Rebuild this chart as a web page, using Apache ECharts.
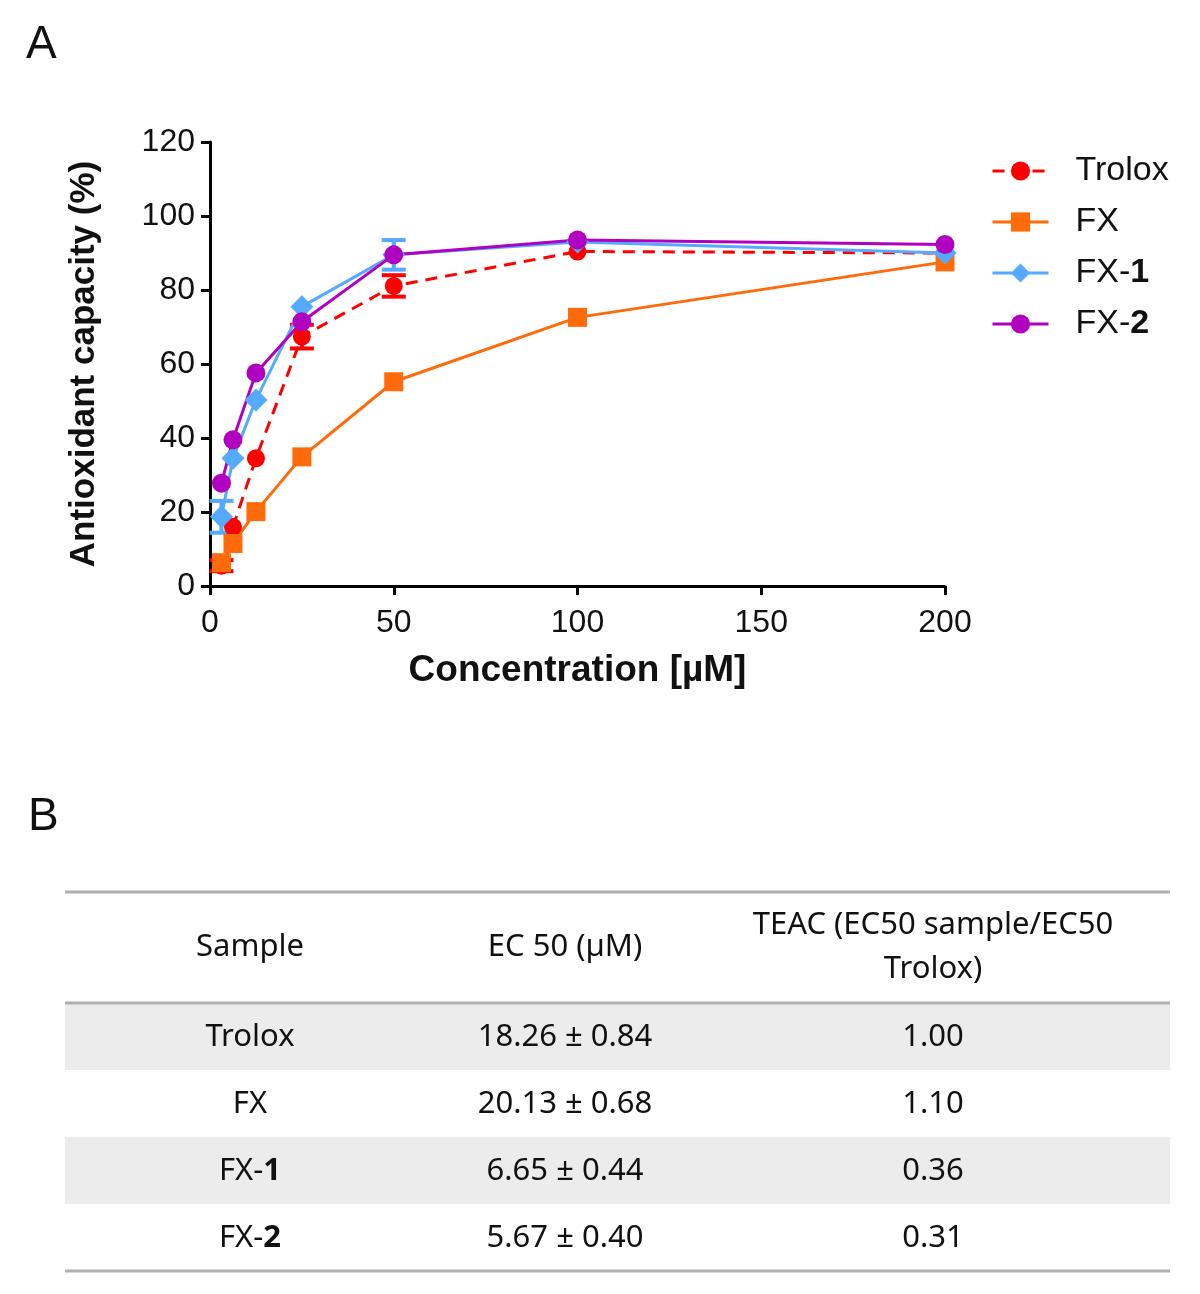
<!DOCTYPE html>
<html>
<head>
<meta charset="utf-8">
<script src="https://cdn.jsdelivr.net/npm/echarts@6/dist/echarts.min.js"></script>
<style>
html, body { margin: 0; padding: 0; background: #fff; }
#main { width: 1200px; height: 1294px; }
</style>
</head>
<body>
<div id="main"></div>
<script>
// concentrations in uM
var concentrations = [3.125, 6.25, 12.5, 25, 50, 100, 200];

// errors of 0 are bars hidden under the symbols in the original
var troloxValues = [5.5, 16.0, 34.5, 67.4, 81.1, 90.4, 90.0];
var troloxErrors = [1.5, 0, 0, 3.2, 2.9, 0, 0];
var fxValues = [6.3, 11.5, 20.1, 34.9, 55.2, 72.6, 87.6];
var fxErrors = [0, 0, 0, 0, 0, 0, 0];
var fx1Values = [18.7, 34.5, 50.3, 75.5, 89.5, 93.0, 90.0];
var fx1Errors = [4.3, 0, 0, 0, 4.0, 0, 0];
var fx2Values = [27.8, 39.5, 57.6, 71.4, 89.5, 93.5, 92.3];
var fx2Errors = [0, 0, 0, 0, 0, 0, 0];

var xTicks = [0, 50, 100, 150, 200];
var yTicks = [0, 20, 40, 60, 80, 100, 120];

// table B
var tableHeader = ['Sample', 'EC 50 (\u00b5M)', 'TEAC (EC50 sample/EC50\nTrolox)'];
var sampleNames = ['Trolox', 'FX', 'FX-1', 'FX-2'];
var ec50Values = ['18.26 \u00b1 0.84', '20.13 \u00b1 0.68', '6.65 \u00b1 0.44', '5.67 \u00b1 0.40'];
var teacValues = ['1.00', '1.10', '0.36', '0.31'];

var colors = {
    'Trolox': '#ff0000',
    'FX': '#ff6a0a',
    'FX-1': '#55aaff',
    'FX-2': '#b000c0'
};

function boldDigit(name) {
    return name.replace(/-(\d)$/, '-{b|$1}');
}

function pairs(vals, errs) {
    return concentrations.map(function (c, i) { return [c, vals[i], errs[i]]; });
}

function errorRender(color) {
    return function (params, api) {
        var x = api.value(0), y = api.value(1), e = api.value(2);
        if (!(e > 0)) {
            return null;
        }
        var top = api.coord([x, y + e]);
        var bot = api.coord([x, y - e]);
        var hw = 12;
        var st = { stroke: color, lineWidth: 4 };
        return {
            type: 'group',
            children: [
                { type: 'line', shape: { x1: top[0], y1: top[1], x2: bot[0], y2: bot[1] }, style: st },
                { type: 'line', shape: { x1: top[0] - hw, y1: top[1], x2: top[0] + hw, y2: top[1] }, style: st },
                { type: 'line', shape: { x1: bot[0] - hw, y1: bot[1], x2: bot[0] + hw, y2: bot[1] }, style: st }
            ]
        };
    };
}

function errorSeries(name, vals, errs) {
    return {
        type: 'custom',
        name: name + ' err',
        renderItem: errorRender(colors[name]),
        data: pairs(vals, errs),
        clip: false,
        z: 1
    };
}

function lineSeries(name, vals, symbol, size, dashed) {
    return {
        type: 'line',
        name: name,
        data: concentrations.map(function (c, i) { return [c, vals[i]]; }),
        symbol: symbol,
        symbolSize: size,
        showAllSymbol: true,
        itemStyle: { color: colors[name] },
        lineStyle: { color: colors[name], width: 3, type: dashed ? [12, 8] : 'solid' },
        z: 2
    };
}

// table graphics built from the arrays
function buildTable() {
    var x0 = 65, x1 = 1170;
    var colX = [250, 565, 933];
    var headTop = 892, headBottom = 1003, rowH = 67;
    var font = '"Noto Sans", "DejaVu Sans", sans-serif';
    var fs = 31;
    var els = [];
    sampleNames.forEach(function (s, i) {
        if (i % 2 === 0) {
            els.push({
                type: 'rect',
                shape: { x: x0, y: headBottom + i * rowH, width: x1 - x0, height: rowH },
                style: { fill: '#ececec' },
                silent: true
            });
        }
    });
    [headTop, headBottom, headBottom + sampleNames.length * rowH].forEach(function (y) {
        els.push({
            type: 'line',
            shape: { x1: x0, y1: y, x2: x1, y2: y },
            style: { stroke: '#b0b0b0', lineWidth: 3 },
            silent: true
        });
    });
    tableHeader.forEach(function (h, j) {
        els.push({
            type: 'text',
            x: colX[j],
            y: (headTop + headBottom) / 2,
            style: {
                text: h, fontFamily: font, fontSize: fs, fill: '#111',
                align: 'center', verticalAlign: 'middle', lineHeight: 44
            }
        });
    });
    sampleNames.forEach(function (s, i) {
        var cy = headBottom + i * rowH + rowH / 2 + 1;
        [boldDigit(s), ec50Values[i], teacValues[i]].forEach(function (t, j) {
            els.push({
                type: 'text',
                x: colX[j],
                y: cy,
                style: {
                    text: t, fontFamily: font, fontSize: fs, fill: '#111',
                    align: 'center', verticalAlign: 'middle',
                    rich: { b: { fontFamily: font, fontSize: fs, fontWeight: 'bold', fill: '#111' } }
                }
            });
        });
    });
    return els;
}

var myChart = echarts.init(document.getElementById('main'), null, { renderer: 'canvas' });
var axisFont = '"Liberation Sans", Arial, sans-serif';

var option = {
    backgroundColor: '#fff',
    animation: false,
    textStyle: { fontFamily: axisFont },
    grid: { left: 210, right: 255, top: 142, bottom: 708, containLabel: false },
    legend: {
        orient: 'vertical',
        left: 991,
        top: 154,
        itemWidth: 56,
        itemHeight: 24,
        itemGap: 17,
        padding: 0,
        data: sampleNames,
        formatter: boldDigit,
        lineStyle: { width: 3 },
        textStyle: {
            fontFamily: axisFont, fontSize: 34, color: '#111', padding: [0, 0, 0, 22],
            rich: { b: { fontFamily: axisFont, fontSize: 34, fontWeight: 'bold', color: '#111' } }
        }
    },
    xAxis: {
        type: 'value',
        min: 0,
        max: 200,
        interval: 50,
        name: 'Concentration [\u00b5M]',
        nameLocation: 'middle',
        nameGap: 66,
        nameTextStyle: { fontFamily: axisFont, fontSize: 37, fontWeight: 'bold', color: '#111' },
        axisLine: { onZero: false, lineStyle: { color: '#000', width: 3 } },
        axisTick: { length: 9, lineStyle: { color: '#000', width: 3 } },
        axisLabel: {
            fontSize: 32, color: '#111', margin: 21,
            customValues: xTicks
        },
        splitLine: { show: false }
    },
    yAxis: {
        type: 'value',
        min: 0,
        max: 120,
        interval: 20,
        name: 'Antioxidant capacity (%)',
        nameLocation: 'middle',
        nameGap: 108,
        nameTextStyle: { fontFamily: axisFont, fontSize: 35, fontWeight: 'bold', color: '#111' },
        axisLine: { show: true, onZero: false, lineStyle: { color: '#000', width: 3 } },
        axisTick: { show: true, length: 9, lineStyle: { color: '#000', width: 3 } },
        axisLabel: { fontSize: 32, color: '#111', margin: 15, customValues: yTicks },
        splitLine: { show: false }
    },
    graphic: [
        { type: 'text', left: 26, top: 22, style: { text: 'A', fontFamily: axisFont, fontSize: 46, fill: '#111' } },
        { type: 'text', left: 28, top: 794, style: { text: 'B', fontFamily: axisFont, fontSize: 46, fill: '#111' } }
    ].concat(buildTable()),
    series: [
        errorSeries('Trolox', troloxValues, troloxErrors),
        errorSeries('FX', fxValues, fxErrors),
        errorSeries('FX-1', fx1Values, fx1Errors),
        errorSeries('FX-2', fx2Values, fx2Errors),
        lineSeries('Trolox', troloxValues, 'circle', 18, true),
        lineSeries('FX', fxValues, 'rect', 19, false),
        lineSeries('FX-1', fx1Values, 'diamond', 23, false),
        lineSeries('FX-2', fx2Values, 'circle', 19, false)
    ]
};

myChart.setOption(option);
</script>
</body>
</html>
